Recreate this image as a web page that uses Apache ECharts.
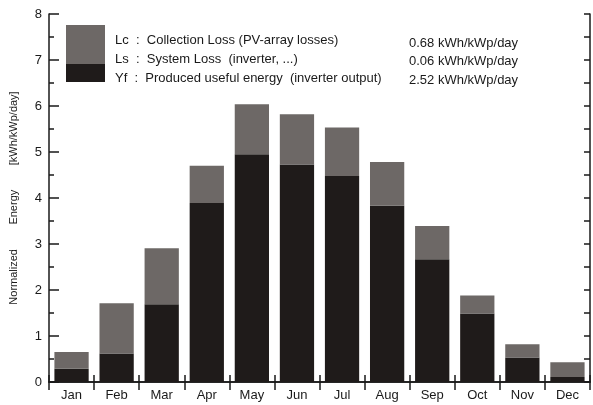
<!DOCTYPE html>
<html><head><meta charset="utf-8">
<script src="https://cdn.jsdelivr.net/npm/echarts@6/dist/echarts.min.js"></script>
<style>html,body{margin:0;padding:0;background:#fff}#c{width:593px;height:405px}</style>
</head><body><div id="c"></div>
<script>
var months = ['Jan','Feb','Mar','Apr','May','Jun','Jul','Aug','Sep','Oct','Nov','Dec'];
var yfValues = [0.29,0.62,1.69,3.89,4.95,4.73,4.48,3.83,2.67,1.49,0.53,0.11];
var lcValues = [0.36,1.09,1.22,0.81,1.09,1.09,1.05,0.95,0.72,0.39,0.29,0.32];
var legendLabels = ['Lc  :  Collection Loss (PV-array losses)','Ls  :  System Loss  (inverter, ...)','Yf  :  Produced useful energy  (inverter output)'];
var legendValues = ['0.68 kWh/kWp/day','0.06 kWh/kWp/day','2.52 kWh/kWp/day'];
var yTicks = [0,1,2,3,4,5,6,7,8];

var dark = '#1f1b1a', gray = '#6d6866', ink = '#1a1a1a';
var font = 'Liberation Sans, Arial, sans-serif';
var chart = echarts.init(document.getElementById('c'));
var g = [
  {type:'rect', left:66, top:25, shape:{width:39,height:39}, style:{fill:gray}},
  {type:'rect', left:66, top:64, shape:{width:39,height:18}, style:{fill:dark}}
];
legendLabels.forEach(function(t,i){
  g.push({type:'text', x:115, y:40+i*19, style:{text:t, fill:ink, font:'13px '+font, verticalAlign:'middle'}});
});
legendValues.forEach(function(t,i){
  g.push({type:'text', x:409, y:43+i*18.5, style:{text:t, fill:ink, font:'13px '+font, verticalAlign:'middle'}});
});
var sp = '        ';
var tk = function(len){ return {show:true,inside:true,length:len,lineStyle:{color:ink,width:1.5}}; };
chart.setOption({
  animation:false,
  grid:{left:46,right:3,top:14,bottom:23},
  graphic:g,
  xAxis:[{type:'category',data:months,position:'bottom',boundaryGap:true,
    axisLine:{show:true,lineStyle:{color:ink,width:1.5}},
    axisTick:tk(7),
    axisLabel:{color:ink,fontSize:13,fontFamily:font,margin:7}},
   {type:'category',data:months,position:'top',boundaryGap:true,
    axisLine:{show:true,lineStyle:{color:ink,width:1.5}},
    axisTick:tk(8),
    axisLabel:{show:false}}],
  yAxis:[{type:'value',min:yTicks[0],max:yTicks[yTicks.length-1],interval:1,position:'left',
    name:'Normalized'+sp+'Energy'+sp+'[kWh/kWp/day]',nameLocation:'middle',nameGap:30,
    nameTextStyle:{color:ink,fontSize:11,fontFamily:font},
    axisLine:{show:true,lineStyle:{color:ink,width:1.5}},
    axisTick:tk(10),
    minorTick:{show:true,splitNumber:2,length:5,lineStyle:{color:ink,width:1.5}},
    splitLine:{show:false},
    axisLabel:{color:ink,fontSize:13,fontFamily:font,margin:7}},
   {type:'value',min:yTicks[0],max:yTicks[yTicks.length-1],interval:1,position:'right',
    axisLine:{show:true,lineStyle:{color:ink,width:1.5}},
    axisTick:tk(6),
    minorTick:{show:true,splitNumber:2,length:6,lineStyle:{color:ink,width:1.5}},
    splitLine:{show:false},axisLabel:{show:false}}],
  series:[
    {name:'Yf',type:'bar',stack:'e',data:yfValues,barWidth:'76%',itemStyle:{color:dark}},
    {name:'Lc',type:'bar',stack:'e',data:lcValues,barWidth:'76%',itemStyle:{color:gray}}
  ]
});
</script></body></html>
